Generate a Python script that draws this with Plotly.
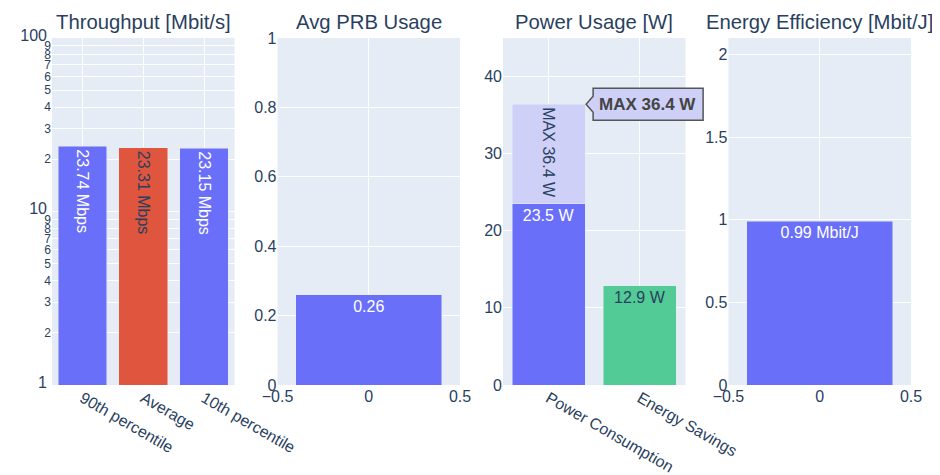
import plotly.graph_objects as go
from plotly.subplots import make_subplots

# ---- data ----
titles = ["Throughput [Mbit/s]", "Avg PRB Usage", "Power Usage [W]", "Energy Efficiency [Mbit/J]"]

tp_categories = ["90th percentile", "Average", "10th percentile"]
tp_values = [23.74, 23.31, 23.15]
tp_colors = ["#6a6ff9", "#E0553D", "#6a6ff9"]

prb_x = [0]
prb_values = [0.26]

power_categories = ["Power Consumption", "Energy Savings"]
power_values = [23.5, 12.9]
power_colors = ["#6a6ff9", "#52CB96"]
power_max = 36.4

ee_x = [0]
ee_values = [0.99]

FONT = "Liberation Sans, Arial, sans-serif"
light = "#CED0F8"
TXT = 16

fig = make_subplots(rows=1, cols=4, subplot_titles=titles, horizontal_spacing=0.05)

fig.add_trace(go.Bar(
    x=tp_categories, y=tp_values, marker_color=tp_colors,
    text=[f"{v:.2f} Mbps" for v in tp_values], textposition="inside", textangle=90,
    textfont=dict(size=TXT, color=["white", "#2a3f5f", "white"])), row=1, col=1)

fig.add_trace(go.Bar(
    x=prb_x, y=prb_values, marker_color="#6a6ff9",
    text=[f"{v:.2f}" for v in prb_values], textposition="inside", textangle=0,
    textfont=dict(size=TXT, color="white")), row=1, col=2)

fig.add_trace(go.Bar(
    x=power_categories, y=power_values, marker_color=power_colors,
    text=[f"{v} W" for v in power_values], textposition="inside", textangle=0,
    textfont=dict(size=TXT, color=["white", "#2a3f5f"])), row=1, col=3)

extra = round(power_max - power_values[0], 2)
fig.add_trace(go.Bar(
    x=[power_categories[0]], y=[extra], marker_color=light,
    text=[f"MAX {power_max} W"], textposition="inside", textangle=90,
    textfont=dict(size=TXT, color="#2a3f5f")), row=1, col=3)

fig.add_trace(go.Bar(
    x=ee_x, y=ee_values, marker_color="#6a6ff9",
    text=[f"{v:.2f} Mbit/J" for v in ee_values], textposition="inside", textangle=0,
    textfont=dict(size=TXT, color="white")), row=1, col=4)

fig.update_layout(
    width=940, height=475,
    barmode="stack",
    showlegend=False,
    font=dict(family=FONT, size=16, color="#2a3f5f"),
    margin=dict(l=44, r=37, t=30, b=98),
    plot_bgcolor="#E5ECF6",
    paper_bgcolor="white",
)
fig.update_annotations(font=dict(size=20.3, family=FONT), yshift=3)

x3_range = [-0.5, 1.5]
y3_range = [0, 45]
fig.update_yaxes(type="log", range=[0, 2], dtick="D1", row=1, col=1)
fig.update_xaxes(tickangle=30, row=1, col=1)
fig.update_yaxes(range=[0, 1], dtick=0.2, row=1, col=2)
fig.update_xaxes(range=[-0.5, 0.5], dtick=0.5, row=1, col=2)
fig.update_yaxes(range=y3_range, dtick=10, row=1, col=3)
fig.update_xaxes(tickangle=30, range=x3_range, row=1, col=3)
fig.update_yaxes(range=[0, 2.1], dtick=0.5, row=1, col=4)
fig.update_xaxes(range=[-0.5, 0.5], dtick=0.5, row=1, col=4)
fig.update_xaxes(gridcolor="white", zeroline=False, automargin=False)
fig.update_yaxes(gridcolor="white", zeroline=False, automargin=False)

# hover-style callout for the max value (paper coords so it is not clipped)
bar_edge = 0.4  # right edge of first category bar (width 0.8)
d0, d1 = fig.layout.xaxis3.domain
px = d0 + (bar_edge - x3_range[0]) / (x3_range[1] - x3_range[0]) * (d1 - d0)
yd0, yd1 = fig.layout.yaxis3.domain
py = yd0 + (power_max - y3_range[0]) / (y3_range[1] - y3_range[0]) * (yd1 - yd0)
fig.add_shape(type="path", xref="paper", yref="paper", xsizemode="pixel", ysizemode="pixel",
              xanchor=px, yanchor=py,
              path="M 1,0 L 8,8 L 8,16 L 118,16 L 118,-16 L 8,-16 L 8,-8 Z",
              fillcolor=light, line=dict(color="#555", width=1.5))
fig.add_annotation(x=bar_edge, y=power_max, xref="x3", yref="y3", showarrow=False,
                   xanchor="left", xshift=12, yshift=0, text=f"<b>MAX {power_max} W</b>",
                   font=dict(size=17, color="#444", family=FONT))

fig.write_html("out.html")
